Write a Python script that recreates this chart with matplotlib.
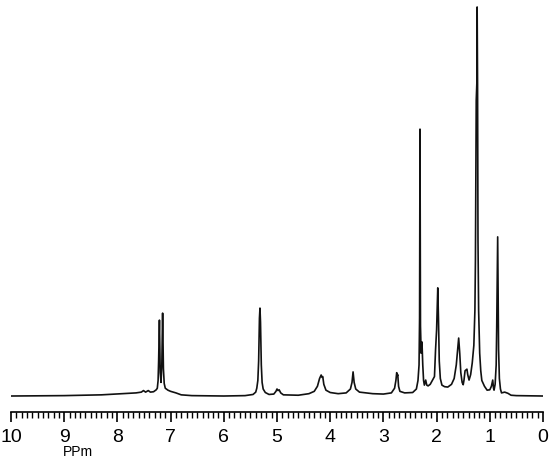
import matplotlib
matplotlib.use("Agg")
import matplotlib.pyplot as plt
from matplotlib.ticker import MultipleLocator

plt.rcParams['font.family'] = ['Liberation Sans', 'DejaVu Sans']

# Chemical shift (ppm) and intensity (a.u., tallest = 100)
ppm = [10.0, 9.0, 8.3, 7.9, 7.65, 7.55, 7.51, 7.47, 7.42, 7.38, 7.32, 7.27,
       7.25, 7.235, 7.225, 7.21, 7.195, 7.18, 7.165, 7.15, 7.135, 7.12, 7.10,
       7.05, 7.0, 6.9, 6.8, 6.6, 6.0, 5.6, 5.45, 5.40,
       5.38, 5.36, 5.345, 5.33, 5.32, 5.31, 5.295, 5.28, 5.26, 5.22, 5.15,
       5.06, 5.02, 5.0, 4.98, 4.96, 4.93, 4.88, 4.6, 4.4, 4.3, 4.24, 4.20,
       4.17, 4.155, 4.14, 4.12, 4.08, 4.0, 3.85, 3.7, 3.62, 3.59, 3.57, 3.55,
       3.52, 3.45, 3.2, 3.0, 2.85, 2.79, 2.765, 2.75, 2.74, 2.73, 2.715, 2.69,
       2.6, 2.45, 2.38, 2.35, 2.33, 2.32, 2.312, 2.303, 2.29, 2.275, 2.26,
       2.245, 2.23, 2.205, 2.185, 2.16, 2.12, 2.08, 2.04, 2.02, 2.0, 1.985,
       1.978, 1.965, 1.95, 1.93, 1.90, 1.85, 1.79, 1.72, 1.67, 1.63, 1.605,
       1.585, 1.565, 1.545, 1.52, 1.50, 1.485, 1.465, 1.43, 1.415, 1.39,
       1.36, 1.33, 1.30, 1.28, 1.27, 1.262, 1.255, 1.248, 1.242, 1.238, 1.23,
       1.222, 1.21, 1.19, 1.17, 1.15, 1.10, 1.05, 1.0, 0.97, 0.945, 0.93,
       0.92, 0.90, 0.88, 0.87, 0.86, 0.852, 0.845, 0.835, 0.82, 0.80, 0.78,
       0.72, 0.66, 0.6, 0.5, 0.0]
intensity = [0.0, 0.1, 0.3, 0.6, 0.8, 1.0, 1.4, 1.0, 1.4, 1.0, 1.1, 1.6,
             2.0, 4.0, 9.0, 19.5, 6.0, 3.5, 8.0, 21.3, 7.0, 3.2, 2.0,
             1.5, 1.2, 0.8, 0.3, 0.1, 0.0, 0.1, 0.4, 1.0,
             2.0, 4.0, 9.0, 20.0, 22.6, 19.0, 8.0, 3.5, 1.8, 0.9, 0.4,
             0.5, 1.2, 1.8, 1.4, 1.6, 0.8, 0.3, 0.2, 0.6, 1.2, 2.5, 4.5,
             5.4, 4.8, 5.0, 3.0, 1.5, 0.9, 0.6, 0.8, 1.8, 3.5, 6.2, 3.5,
             1.8, 1.0, 0.6, 0.5, 0.8, 2.0, 4.0, 6.0, 5.2, 5.5, 2.5, 1.2,
             0.8, 0.9, 1.8, 4.0, 8.0, 20.0, 68.6, 18.0, 11.0, 13.9, 8.0,
             4.0, 2.8, 4.1, 2.8, 2.6, 3.0, 4.0, 5.0, 11.8, 17.0, 24.0,
             27.8, 20.0, 9.0, 4.5, 2.8, 2.4, 2.3, 3.0, 4.5, 8.0, 12.0,
             14.9, 11.0, 6.0, 3.5, 2.9, 4.1, 6.5, 6.9, 5.5, 4.1,
             5.5, 8.5, 13.0, 22.0, 35.0, 58.0, 76.0, 79.0, 81.0, 100.0, 80.0,
             40.0, 22.0, 11.0, 6.5, 4.0, 2.5, 1.5, 1.6, 2.5, 4.1, 2.0,
             1.5, 3.0, 8.0, 17.7, 30.0, 40.9, 30.0, 12.0, 4.5, 1.8, 0.8,
             1.0, 0.7, 0.2, 0.1, 0.0]

major_ticks = [10, 9, 8, 7, 6, 5, 4, 3, 2, 1, 0]

fig = plt.figure(figsize=(5.5, 4.61), dpi=100)
ax = fig.add_axes([11 / 550, 49 / 461, 532 / 550, 412 / 461])
ax.plot(ppm, intensity, color='#111111', linewidth=1.2, solid_joinstyle='round')

ax.set_xlim(10, 0)
ax.set_ylim(-4.11, 101.8)
for s in ['top', 'left', 'right']:
    ax.spines[s].set_visible(False)
ax.spines['bottom'].set_linewidth(1.2)
ax.set_yticks([])
ax.set_xticks(major_ticks)
ax.set_xticklabels([str(t) for t in major_ticks])
ax.xaxis.set_minor_locator(MultipleLocator(0.1))
ax.tick_params(axis='x', which='major', direction='out', length=7, width=1.2,
               labelsize=14, pad=5)
ax.tick_params(axis='x', which='minor', direction='out', length=4, width=1.0)

fig.text(78 / 550, 1 - 452 / 461, 'PPm', ha='center', va='center', fontsize=10)

fig.savefig('out.png', dpi=100)
